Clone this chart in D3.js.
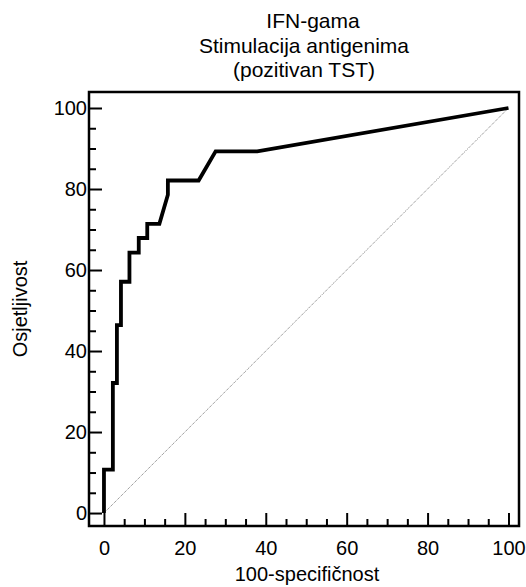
<!DOCTYPE html>
<html>
<head>
<meta charset="utf-8">
<script src="https://cdn.jsdelivr.net/npm/d3@7"></script>
<style>
  body { margin: 0; background: #fff; }
  text { font-family: Arial, "Liberation Sans", sans-serif; fill: #000; }
</style>
</head>
<body>
<svg id="chart" width="526" height="587"></svg>
<script>
// ROC curve points: 100-specificity (x) and sensitivity (y)
const fpr = [0, 0, 2.2, 2.2, 3.2, 3.2, 4.2, 4.2, 6.3, 6.3, 8.6, 8.6, 10.7, 10.7, 13.7, 15.8, 15.8, 23.4, 27.6, 37.9, 100];
const tpr = [0, 10.7, 10.7, 32.1, 32.1, 46.4, 46.4, 57.1, 57.1, 64.3, 64.3, 67.9, 67.9, 71.4, 71.4, 78.6, 82.1, 82.1, 89.3, 89.3, 100];
const refLine = [0, 100];
const majorTicks = [0, 20, 40, 60, 80, 100];
const minorTicks = [5, 10, 15, 25, 30, 35, 45, 50, 55, 65, 70, 75, 85, 90, 95];
const titleLines = ["IFN-gama", "Stimulacija antigenima", "(pozitivan TST)"];
const xTitle = "100-specifičnost";
const yTitle = "Osjetljivost";

const svg = d3.select("#chart");
const L = 89, R = 519, T = 92, B = 526;
const x = d3.scaleLinear().domain([-3.7, 102.6]).range([L, R]);
const y = d3.scaleLinear().domain([-3.2, 103.95]).range([B, T]);
const fs = 20;

// diagonal reference
svg.append("line")
  .attr("x1", x(refLine[0])).attr("y1", y(refLine[0]))
  .attr("x2", x(refLine[1])).attr("y2", y(refLine[1]))
  .attr("stroke", "#777").attr("stroke-width", 1).attr("stroke-dasharray", "1,1");

// axes (inward ticks)
const gx = svg.append("g").attr("transform", `translate(0,${B})`)
  .call(d3.axisBottom(x).tickValues(majorTicks).tickSize(-13).tickPadding(15).tickFormat(d3.format("d")));
const gxm = svg.append("g").attr("transform", `translate(0,${B})`)
  .call(d3.axisBottom(x).tickValues(minorTicks).tickSize(-7).tickFormat(""));
const gy = svg.append("g").attr("transform", `translate(${L},0)`)
  .call(d3.axisLeft(y).tickValues(majorTicks).tickSize(-13).tickPadding(2).tickFormat(d3.format("d")));
const gym = svg.append("g").attr("transform", `translate(${L},0)`)
  .call(d3.axisLeft(y).tickValues(minorTicks).tickSize(-7).tickFormat(""));
[gx, gxm, gy, gym].forEach(g => {
  g.select(".domain").remove();
  g.selectAll(".tick line").attr("stroke", "#000").attr("stroke-width", 2);
  g.selectAll("text").attr("font-size", fs).attr("font-family", "Arial, 'Liberation Sans', sans-serif").attr("fill", "#000");
});

// frame
svg.append("rect").attr("x", L).attr("y", T).attr("width", R - L).attr("height", B - T)
  .attr("fill", "none").attr("stroke", "#000").attr("stroke-width", 2.5);

// ROC curve
const pts = fpr.map((d, i) => [d, tpr[i]]);
svg.append("path")
  .attr("d", d3.line().x(d => x(d[0])).y(d => y(d[1]))(pts))
  .attr("fill", "none").attr("stroke", "#000").attr("stroke-width", 3.8)
  .attr("stroke-linejoin", "miter");

// titles
const tx = [313, 304, 304];
titleLines.forEach((t, i) => {
  svg.append("text").attr("x", tx[i]).attr("y", 28 + i * 24.5)
    .attr("text-anchor", "middle").attr("font-size", 21).text(t);
});
svg.append("text").attr("x", (L + R) / 2 + 3).attr("y", 581)
  .attr("text-anchor", "middle").attr("font-size", fs).text(xTitle);
svg.append("text").attr("transform", `translate(27,${(T + B) / 2}) rotate(-90)`)
  .attr("text-anchor", "middle").attr("font-size", fs).text(yTitle);
</script>
</body>
</html>
